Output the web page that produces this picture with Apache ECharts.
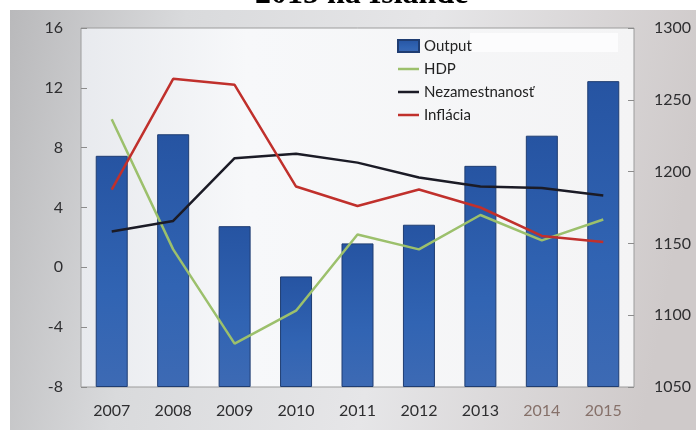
<!DOCTYPE html>
<html>
<head>
<meta charset="utf-8">
<script src="https://cdn.jsdelivr.net/npm/echarts@6/dist/echarts.min.js"></script>
<style>
  html, body { margin: 0; padding: 0; background: #ffffff; }
  #chart { width: 696px; height: 430px; }
</style>
</head>
<body>
<div id="chart"></div>
<script>
// Years on the category axis
const years = ['2007', '2008', '2009', '2010', '2011', '2012', '2013', '2014', '2015'];
// Output (right axis)
const output = [1211, 1226, 1162, 1127, 1150, 1163, 1204, 1225, 1263];
// HDP growth, unemployment and inflation in % (left axis)
const hdp = [9.9, 1.2, -5.1, -2.9, 2.2, 1.2, 3.5, 1.8, 3.2];
const nezamestnanost = [2.4, 3.1, 7.3, 7.6, 7.0, 6.0, 5.4, 5.3, 4.8];
const inflacia = [5.2, 12.6, 12.2, 5.4, 4.1, 5.2, 4.0, 2.1, 1.7];
const titleText = '2015 na Islande';

const chart = echarts.init(document.getElementById('chart'), null, { renderer: 'canvas' });
const FONT = 'Lato, "Open Sans", sans-serif';
// Thin bar used as the legend marker of the line series
const LINE_ICON = 'path://M0,0 H21 V2.5 H0 Z';

const option = {
  animation: false,
  backgroundColor: '#ffffff',
  textStyle: { fontFamily: FONT },
  graphic: [
    {
      type: 'rect', z: -100, silent: true,
      shape: { x: 10, y: 10, width: 686, height: 420 },
      style: {
        fill: new echarts.graphic.LinearGradient(0, 0, 1, 0.3, [
          { offset: 0, color: '#b9b9bb' },
          { offset: 0.25, color: '#d9dadc' },
          { offset: 0.6, color: '#e6e6e8' },
          { offset: 1, color: '#cfcaca' }
        ])
      }
    },
    {
      type: 'rect', z: 50, silent: true,
      shape: { x: 470, y: 33, width: 148, height: 19 },
      style: { fill: '#fcfcfd' }
    },
    {
      // Heading, mostly above the top edge of the page
      type: 'text', z: 100, silent: true,
      x: 255, y: 11,
      style: {
        text: titleText,
        font: 'bold 32px "Liberation Serif", "DejaVu Serif", serif',
        fill: '#000000',
        align: 'left',
        verticalAlign: 'bottom'
      }
    }
  ],
  legend: {
    orient: 'vertical',
    left: 392,
    top: 33,
    itemWidth: 21,
    itemHeight: 12,
    itemGap: 7,
    z: 60,
    textStyle: { fontSize: 15, color: '#222222', lineHeight: 16, fontFamily: FONT },
    data: [
      { name: 'Output', icon: 'rect' },
      { name: 'HDP', icon: LINE_ICON },
      { name: 'Nezamestnanosť', icon: LINE_ICON },
      { name: 'Inflácia', icon: LINE_ICON }
    ]
  },
  grid: {
    left: 81, right: 62, top: 28, bottom: 43,
    show: true,
    borderColor: '#9c9c9c',
    borderWidth: 1,
    backgroundColor: new echarts.graphic.LinearGradient(0, 0, 1, 0, [
      { offset: 0, color: '#e8eaee' },
      { offset: 0.3, color: '#f7f8fa' },
      { offset: 1, color: '#f4f4f5' }
    ])
  },
  xAxis: {
    type: 'category',
    data: years,
    axisLine: { show: false },
    axisTick: { show: false },
    axisLabel: {
      fontSize: 16,
      margin: 16,
      fontFamily: FONT,
      color: function (value) {
        return (value === '2014' || value === '2015') ? '#86716a' : '#2e2e30';
      }
    }
  },
  yAxis: [
    {
      type: 'value',
      min: -8, max: 16, interval: 4,
      axisLine: { show: false },
      axisTick: { show: true, inside: true, length: 6, lineStyle: { color: '#8c8c8c' } },
      splitLine: { show: false },
      axisLabel: { fontSize: 16, margin: 18, color: '#2e2e30', fontFamily: FONT }
    },
    {
      type: 'value',
      min: 1050, max: 1300, interval: 50,
      startValue: 1050,
      position: 'right',
      axisLine: { show: false },
      axisTick: { show: true, inside: true, length: 6, lineStyle: { color: '#8c8c8c' } },
      splitLine: { show: false },
      axisLabel: {
        fontSize: 16, margin: 20, color: '#2e2e30', fontFamily: FONT,
        formatter: function (v) { return String(v); }
      }
    }
  ],
  series: [
    {
      name: 'Output',
      type: 'bar',
      yAxisIndex: 1,
      data: output,
      barWidth: 32,
      itemStyle: {
        color: new echarts.graphic.LinearGradient(0, 0, 0, 1, [
          { offset: 0, color: '#2654a2' },
          { offset: 0.6, color: '#3164b3' },
          { offset: 1, color: '#3d6ab4' }
        ]),
        borderColor: '#1f3d72',
        borderWidth: 1
      }
    },
    {
      name: 'HDP',
      type: 'line',
      yAxisIndex: 0,
      data: hdp,
      symbol: 'none',
      lineStyle: { color: '#9cc06c', width: 2.5 },
      itemStyle: { color: '#9cc06c' }
    },
    {
      name: 'Nezamestnanosť',
      type: 'line',
      yAxisIndex: 0,
      data: nezamestnanost,
      symbol: 'none',
      lineStyle: { color: '#1b1b26', width: 2.5 },
      itemStyle: { color: '#1b1b26' }
    },
    {
      name: 'Inflácia',
      type: 'line',
      yAxisIndex: 0,
      data: inflacia,
      symbol: 'none',
      lineStyle: { color: '#c0302c', width: 2.5 },
      itemStyle: { color: '#c0302c' }
    }
  ]
};

chart.setOption(option);
</script>
</body>
</html>
